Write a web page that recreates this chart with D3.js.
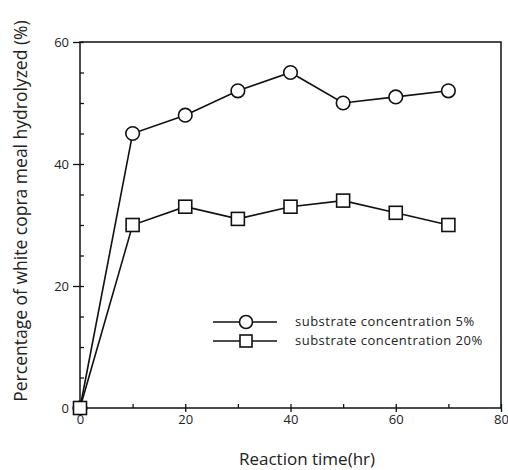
<!DOCTYPE html>
<html>
<head>
<meta charset="utf-8">
<script src="https://cdn.jsdelivr.net/npm/d3@7"></script>
<style>
  body { margin: 0; background: #fff; }
  text { font-family: "Open Sans", sans-serif; fill: #222; }
</style>
</head>
<body>
<svg id="chart"></svg>
<script>
// reaction time (hr)
const times = [0, 10, 20, 30, 40, 50, 60, 70];
// % hydrolyzed
const conc5 = [0, 45, 48, 52, 55, 50, 51, 52];
const conc20 = [0, 30, 33, 31, 33, 34, 32, 30];
const seriesNames = ["substrate concentration 5%", "substrate concentration 20%"];
const xTicks = [0, 20, 40, 60, 80];
const yTicks = [0, 20, 40, 60];

const width = 508, height = 470;
const margin = { top: 42, right: 7, bottom: 62, left: 80 };
const w = width - margin.left - margin.right,
    h = height - margin.top - margin.bottom;

const svg = d3.select("#chart")
    .attr("width", width)
    .attr("height", height);

const g = svg.append("g")
    .attr("transform", "translate(" + margin.left + "," + margin.top + ")");

const x = d3.scaleLinear().domain([0, 80]).range([0, w]);
const y = d3.scaleLinear().domain([0, 60]).range([h, 0]);

// frame
g.append("rect")
    .attr("width", w).attr("height", h)
    .attr("fill", "none").attr("stroke", "#111").attr("stroke-width", 1.5);

// minor ticks (inward)
g.append("g").call(d3.axisRight(y).tickValues(d3.range(0, 61, 5)).tickSize(4).tickFormat(""))
    .call(a => a.select(".domain").remove())
    .selectAll("line").attr("stroke", "#111").attr("stroke-width", 1.3);
g.append("g").attr("transform", "translate(0," + h + ")")
    .call(d3.axisTop(x).tickValues(d3.range(0, 81, 10)).tickSize(4).tickFormat(""))
    .call(a => a.select(".domain").remove())
    .selectAll("line").attr("stroke", "#111").attr("stroke-width", 1.3);

// major axes with labels
const yAxis = g.append("g").call(d3.axisLeft(y).tickValues(yTicks).tickSize(7).tickPadding(4));
yAxis.select(".domain").remove();
yAxis.selectAll("line").attr("stroke", "#111").attr("stroke-width", 1.3);
yAxis.selectAll("text").style("font-size", "13px").style("font-family", "Open Sans");

const xAxis = g.append("g").attr("transform", "translate(0," + h + ")")
    .call(d3.axisBottom(x).tickValues(xTicks).tickSize(4).tickPadding(3));
xAxis.select(".domain").remove();
xAxis.selectAll("line").attr("stroke", "#111").attr("stroke-width", 1.3);
xAxis.selectAll("text").style("font-size", "13px").style("font-family", "Open Sans");

// axis titles
svg.append("text")
    .attr("transform", "translate(27,211) rotate(-90)")
    .attr("text-anchor", "middle")
    .style("font-size", "17.5px")
    .text("Percentage of white copra meal hydrolyzed (%)");

svg.append("text")
    .attr("x", 307)
    .attr("y", 465)
    .attr("text-anchor", "middle")
    .style("font-size", "17px")
    .text("Reaction time(hr)");

const line = d3.line()
    .x((d, i) => x(times[i]))
    .y(d => y(d));

[conc5, conc20].forEach(vals => {
    g.append("path").datum(vals)
        .attr("d", line)
        .attr("fill", "none").attr("stroke", "#111").attr("stroke-width", 1.6);
});

g.selectAll(".c5").data(conc5).enter().append("circle")
    .attr("cx", (d, i) => x(times[i])).attr("cy", d => y(d)).attr("r", 6.8)
    .attr("fill", "#fff").attr("stroke", "#111").attr("stroke-width", 1.6);

const sq = 13;
g.selectAll(".c20").data(conc20).enter().append("rect")
    .attr("x", (d, i) => x(times[i]) - sq / 2).attr("y", d => y(d) - sq / 2)
    .attr("width", sq).attr("height", sq)
    .attr("fill", "#fff").attr("stroke", "#111").attr("stroke-width", 1.6);

// legend
const leg = svg.append("g");
seriesNames.forEach((name, i) => {
    const ly = 322 + i * 19;
    leg.append("line").attr("x1", 213).attr("x2", 277).attr("y1", ly).attr("y2", ly)
        .attr("stroke", "#111").attr("stroke-width", 1.4);
    if (i === 0) {
        leg.append("circle").attr("cx", 246).attr("cy", ly).attr("r", 6.5)
            .attr("fill", "#fff").attr("stroke", "#111").attr("stroke-width", 1.6);
    } else {
        leg.append("rect").attr("x", 246 - 6).attr("y", ly - 6).attr("width", 12).attr("height", 12)
            .attr("fill", "#fff").attr("stroke", "#111").attr("stroke-width", 1.6);
    }
    leg.append("text").attr("x", 295).attr("y", ly + 4)
        .style("font-size", "13px")
        .style("letter-spacing", "0.5px")
        .text(name);
});
</script>
</body>
</html>
